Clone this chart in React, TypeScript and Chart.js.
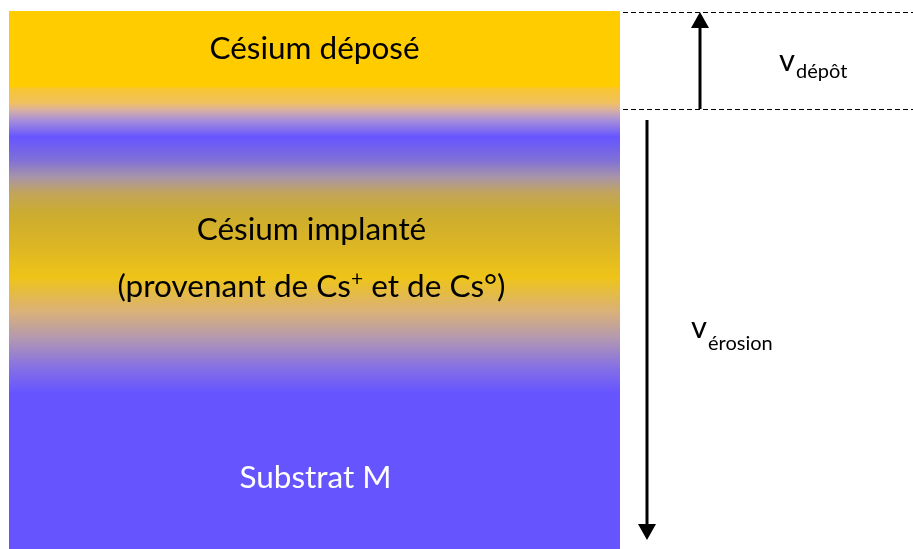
import React, { useEffect, useRef } from "react";
import { Chart, registerables } from "chart.js";

Chart.register(...registerables);

// Layers (depth units = px below the top surface line)
const layerNames = ["Césium déposé", "Césium implanté", "Substrat M"];
const layerThickness = [76, 322, 140];
const depthMax = 538;

// Marker depths
const depositTop = 1;
const depositBottom = 98;
const erosionStart = 109;
const erosionEnd = 529;

// Gradient of the implanted layer: [fraction, colour]
const implantStops: [number, string][] = [
  [0, "#F8C72A"],
  [0.05, "#F0C060"],
  [0.071, "#D8B0A0"],
  [0.102, "#A890D8"],
  [0.155, "#6655FF"],
  [0.227, "#8070D8"],
  [0.28, "#A894A8"],
  [0.329, "#C2A45C"],
  [0.391, "#CCAC30"],
  [0.497, "#DDB624"],
  [0.59, "#EEC418"],
  [0.702, "#D9B07C"],
  [0.786, "#B096B4"],
  [0.87, "#8670E4"],
  [0.95, "#6655FF"],
  [1, "#6655FF"],
];

const FONT = "Lato, 'Open Sans', sans-serif";

function arrow(ctx: CanvasRenderingContext2D, x: number, y0: number, y1: number) {
  const dir = y1 > y0 ? 1 : -1;
  const headH = 16;
  const headW = 9;
  ctx.save();
  ctx.strokeStyle = "#000";
  ctx.fillStyle = "#000";
  ctx.lineWidth = 3;
  ctx.beginPath();
  ctx.moveTo(x, y0);
  ctx.lineTo(x, y1 - dir * headH);
  ctx.stroke();
  ctx.beginPath();
  ctx.moveTo(x, y1);
  ctx.lineTo(x - headW, y1 - dir * headH);
  ctx.lineTo(x + headW, y1 - dir * headH);
  ctx.closePath();
  ctx.fill();
  ctx.restore();
}

type Seg = { t: string; sup?: boolean };

function richText(ctx: CanvasRenderingContext2D, segs: Seg[], cx: number, y: number, size: number, color: string) {
  const big = `${size}px ${FONT}`;
  const small = `${Math.round(size * 0.68)}px ${FONT}`;
  let total = 0;
  segs.forEach((s) => {
    ctx.font = s.sup ? small : big;
    total += ctx.measureText(s.t).width;
  });
  let x = cx - total / 2;
  ctx.fillStyle = color;
  ctx.textBaseline = "alphabetic";
  ctx.textAlign = "left";
  segs.forEach((s) => {
    ctx.font = s.sup ? small : big;
    ctx.fillText(s.t, x, s.sup ? y - size * 0.36 : y);
    x += ctx.measureText(s.t).width;
  });
}

function subText(ctx: CanvasRenderingContext2D, main: string, sub: string, x: number, y: number, size: number, subSize: number, subDy: number) {
  ctx.fillStyle = "#000";
  ctx.textAlign = "left";
  ctx.textBaseline = "alphabetic";
  ctx.font = `${size}px ${FONT}`;
  ctx.fillText(main, x, y);
  const w = ctx.measureText(main).width;
  ctx.font = `${subSize}px ${FONT}`;
  ctx.fillText(sub, x + w + 1, y + subDy);
}

const overlay = {
  id: "overlay",
  afterDatasetsDraw(chart: any) {
    const ctx: CanvasRenderingContext2D = chart.ctx;
    const y = chart.scales.y;
    const area = chart.chartArea;
    const cx = (area.left + area.right) / 2;
    const W = chart.width;

    // dashed lines
    ctx.save();
    ctx.strokeStyle = "#000";
    ctx.lineWidth = 1;
    ctx.setLineDash([5, 3]);
    [depositTop, depositBottom].forEach((d) => {
      const py = Math.round(y.getPixelForValue(d)) + 0.5;
      ctx.beginPath();
      ctx.moveTo(area.right + 3, py);
      ctx.lineTo(W, py);
      ctx.stroke();
    });
    ctx.restore();

    // arrows
    arrow(ctx, area.right + 80, y.getPixelForValue(depositBottom), y.getPixelForValue(depositTop));
    arrow(ctx, area.right + 27, y.getPixelForValue(erosionStart), y.getPixelForValue(erosionEnd));

    // layer labels
    const t0 = y.getPixelForValue(0);
    const t1 = y.getPixelForValue(layerThickness[0]);
    const t2 = y.getPixelForValue(layerThickness[0] + layerThickness[1]);
    richText(ctx, [{ t: layerNames[0] }], cx, t0 + 48, 31.5, "#000");
    richText(ctx, [{ t: layerNames[1] }], cx - 3, t1 + 153, 31.5, "#000");
    richText(ctx, [{ t: "(provenant de Cs" }, { t: "+", sup: true }, { t: " et de Cs°)" }], cx - 3, t1 + 210, 31.5, "#000");
    richText(ctx, [{ t: layerNames[2] }], cx + 1, t2 + 79, 31.5, "#fff");

    // velocities
    subText(ctx, "v", "dépôt", area.right + 159, y.getPixelForValue(depositTop) + 59, 31, 20, 7);
    subText(ctx, "v", "érosion", area.right + 71, (t2 + t0) / 2 + 128, 31, 20, 12);
  },
};

export default function App() {
  const ref = useRef<HTMLCanvasElement>(null);
  useEffect(() => {
    document.body.style.margin = "0";
    const canvas = ref.current!;
    const implantBg = (c: any) => {
      const chart = c.chart;
      const ys = chart.scales.y;
      if (!chart.chartArea || !ys) return "#E0B830";
      const top = ys.getPixelForValue(layerThickness[0]);
      const bot = ys.getPixelForValue(layerThickness[0] + layerThickness[1]);
      const g = chart.ctx.createLinearGradient(0, top, 0, bot);
      implantStops.forEach(([f, col]) => g.addColorStop(f, col));
      return g;
    };
    const colors: any[] = ["#FFCC00", implantBg, "#6655FF"];
    let start = 0;
    const datasets = layerNames.map((name, i) => {
      const d = { label: name, data: [[start, start + layerThickness[i]]] as any, backgroundColor: colors[i], borderWidth: 0, barPercentage: 1, categoryPercentage: 1, grouped: false };
      start += layerThickness[i];
      return d;
    });
    const chart = new Chart(canvas, {
      type: "bar",
      data: { labels: ["couche"], datasets },
      options: {
        animation: false,
        responsive: true,
        maintainAspectRatio: false,
        layout: { padding: { left: 9, right: 293, top: 11, bottom: 0 } },
        plugins: { legend: { display: false }, tooltip: { enabled: false } },
        scales: {
          x: { display: false },
          y: { display: false, reverse: true, min: 0, max: depthMax },
        },
      },
      plugins: [overlay],
    });
    return () => chart.destroy();
  }, []);
  return (
    <div style={{ position: "absolute", left: 0, top: 0, width: 913, height: 549, background: "#fff" }}>
      <canvas ref={ref} />
    </div>
  );
}
